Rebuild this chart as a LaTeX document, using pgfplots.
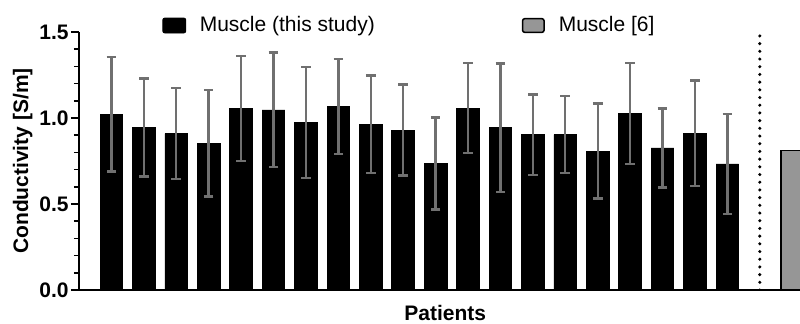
\documentclass[border=0pt]{standalone}
\usepackage{pgfplots}
\pgfplotsset{compat=1.18}
\usepackage{pgfplotstable}
\usepackage{fontspec}
\setmainfont{Liberation Sans}
\definecolor{errgray}{RGB}{112,112,112}
\definecolor{bargray}{RGB}{150,150,150}
\pgfplotstableread{
x y e
0 1.021 0.332
1 0.944 0.285
2 0.909 0.265
3 0.853 0.310
4 1.054 0.305
5 1.047 0.333
6 0.975 0.323
7 1.066 0.276
8 0.963 0.283
9 0.930 0.265
10 0.736 0.267
11 1.058 0.263
12 0.944 0.373
13 0.903 0.233
14 0.903 0.224
15 0.808 0.276
16 1.025 0.294
17 0.826 0.230
18 0.911 0.307
19 0.733 0.290
}\muscle
\begin{document}
\fontsize{10.5}{12}\selectfont
\begin{tikzpicture}
\useasboundingbox (-39.5pt,-16.5pt) rectangle (360.5pt,145pt);
\begin{axis}[
  at={(0,0)}, anchor=south west,
  scale only axis, width=360.5pt, height=129pt,
  xmin=-1, xmax=21.24, ymin=0, ymax=1.5,
  axis x line=bottom, axis y line=left,
  axis line style={line width=1pt, black, -},
  xtick=\empty,
  ytick={0,0.5,1,1.5},
  yticklabels={0.0,0.5,1.0,1.5},
  minor ytick={0.1,0.2,0.3,0.4,0.6,0.7,0.8,0.9,1.1,1.2,1.3,1.4},
  tick align=outside,
  major tick length=4pt, minor tick length=2.5pt,
  ytick style={line width=0.9pt, black},
  minor y tick style={line width=0.8pt, black},
  yticklabel style={font=\fontsize{10.5}{12}\bfseries\selectfont, xshift=2.5pt},
  xlabel={Patients},
  xlabel style={at={(axis description cs:0.508,0)}, anchor=north, inner sep=0pt, yshift=-7.5pt, font=\fontsize{10.5}{12}\bfseries\selectfont},
  ylabel={Conductivity [S/m]},
  ylabel style={at={(axis description cs:-0.0638,0.5)}, anchor=south, inner sep=0pt, rotate=0, font=\fontsize{10.5}{12}\bfseries\selectfont},
  legend columns=2,
  legend style={at={(axis description cs:0.1151,1.0252)}, anchor=west, draw=none, fill=none, inner sep=0pt,
    font=\fontsize{10.5}{12}\selectfont, /tikz/every even column/.append style={column sep=71.5pt}},
  clip=true,
]
\addplot[ybar, bar width=11.35pt, fill=black, draw=black,
  legend image code/.code={\path[draw=none, fill=none] (0pt,0pt) -- (16.5pt,0pt); \fill[black, rounded corners=1pt] (0pt,-3.75pt) rectangle (11.5pt,3.75pt);},
  error bars/.cd, y dir=both, y explicit,
  error bar style={line width=1.2pt, errgray},
  error mark options={rotate=90, mark size=2.4pt, line width=1.2pt, errgray}]
  table[x=x, y=y, y error=e] {\muscle};
\addlegendentry{Muscle (this study)}
\addplot[ybar, bar width=11.35pt, fill=bargray, draw=black, line width=0.75pt,
  legend image code/.code={\path[draw=none, fill=none] (0pt,0pt) -- (16.5pt,0pt); \filldraw[fill=bargray, draw=black, line width=0.75pt, rounded corners=1pt] (0.4pt,-3.4pt) rectangle (11.1pt,3.4pt);}]
  coordinates {(21,0.81)};
\addlegendentry{Muscle [6]}
\addplot[black, line width=1.7pt, line cap=round, dash pattern=on 0pt off 3.85pt, forget plot] coordinates {(20,0) (20,1.5)};
\end{axis}
\end{tikzpicture}
\end{document}
